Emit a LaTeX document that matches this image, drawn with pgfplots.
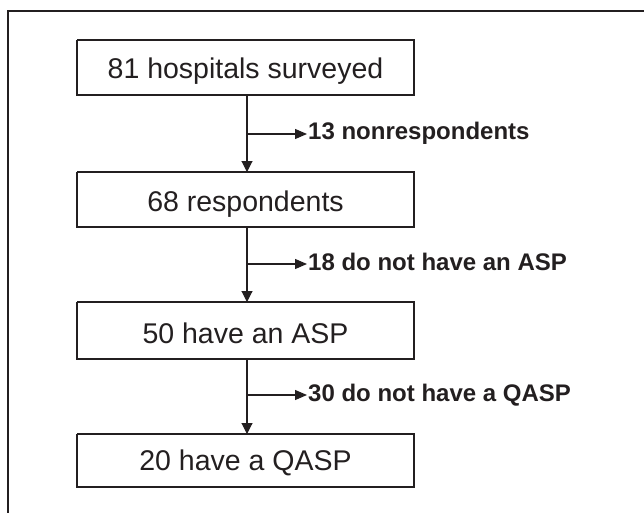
\documentclass[border=0pt]{standalone}
\usepackage{pgfplots}
\pgfplotsset{compat=1.18}
\usepackage{fontspec}
\setmainfont{Liberation Sans}
\usetikzlibrary{arrows.meta}
\definecolor{ink}{HTML}{231F20}
\begin{document}
\begin{tikzpicture}
\begin{axis}[
  width=644pt, height=513pt, scale only axis,
  xmin=0, xmax=644, ymin=0, ymax=513, y dir=reverse,
  hide axis, clip=true,
]
% outer frame (left and top edges)
\addplot[ink, line width=1.7pt] coordinates {(8,520) (8,11) (650,11)};
% boxes
\addplot[ink, line width=1.6pt] coordinates {(77,40) (414,40) (414,95) (77,95) (77,40)};
\addplot[ink, line width=1.6pt] coordinates {(77,172) (414,172) (414,227) (77,227) (77,172)};
\addplot[ink, line width=1.6pt] coordinates {(77,302) (414,302) (414,359) (77,359) (77,302)};
\addplot[ink, line width=1.6pt] coordinates {(77,434) (414,434) (414,487) (77,487) (77,434)};
% vertical arrows
\addplot[ink, line width=1.1pt, -{Triangle[width=11pt,length=11pt]}] coordinates {(247,95) (247,172)};
\addplot[ink, line width=1.1pt, -{Triangle[width=11pt,length=11pt]}] coordinates {(247,227) (247,302)};
\addplot[ink, line width=1.1pt, -{Triangle[width=11pt,length=11pt]}] coordinates {(247,359) (247,434)};
% branch arrows
\addplot[ink, line width=1.1pt, -{Triangle[width=10pt,length=12pt]}] coordinates {(247,134) (307,134)};
\addplot[ink, line width=1.1pt, -{Triangle[width=10pt,length=12pt]}] coordinates {(247,264) (307,264)};
\addplot[ink, line width=1.1pt, -{Triangle[width=10pt,length=12pt]}] coordinates {(247,395) (307,395)};
% box texts
\node[anchor=base, text=ink, font=\fontsize{28.5}{30}\selectfont, inner sep=0pt] at (axis cs:245.5,79) {81 hospitals surveyed};
\node[anchor=base, text=ink, font=\fontsize{28.5}{30}\selectfont, inner sep=0pt] at (axis cs:245.5,211) {68 respondents};
\node[anchor=base, text=ink, font=\fontsize{28.5}{30}\selectfont, inner sep=0pt] at (axis cs:245.5,343) {50 have an ASP};
\node[anchor=base, text=ink, font=\fontsize{28.5}{30}\selectfont, inner sep=0pt] at (axis cs:245.5,470) {20 have a QASP};
% branch texts
\node[anchor=base west, text=ink, font=\bfseries\fontsize{24}{26}\selectfont, inner sep=0pt] at (axis cs:308,140) {13 nonrespondents};
\node[anchor=base west, text=ink, font=\bfseries\fontsize{24}{26}\selectfont, inner sep=0pt] at (axis cs:308,270) {18 do not have an ASP};
\node[anchor=base west, text=ink, font=\bfseries\fontsize{24}{26}\selectfont, inner sep=0pt] at (axis cs:308,401) {30 do not have a QASP};
\coordinate (A) at (rel axis cs:0,0);
\coordinate (B) at (rel axis cs:1,1);
\end{axis}
\pgfresetboundingbox
\path[use as bounding box] (A) rectangle (B);
\end{tikzpicture}
\end{document}
